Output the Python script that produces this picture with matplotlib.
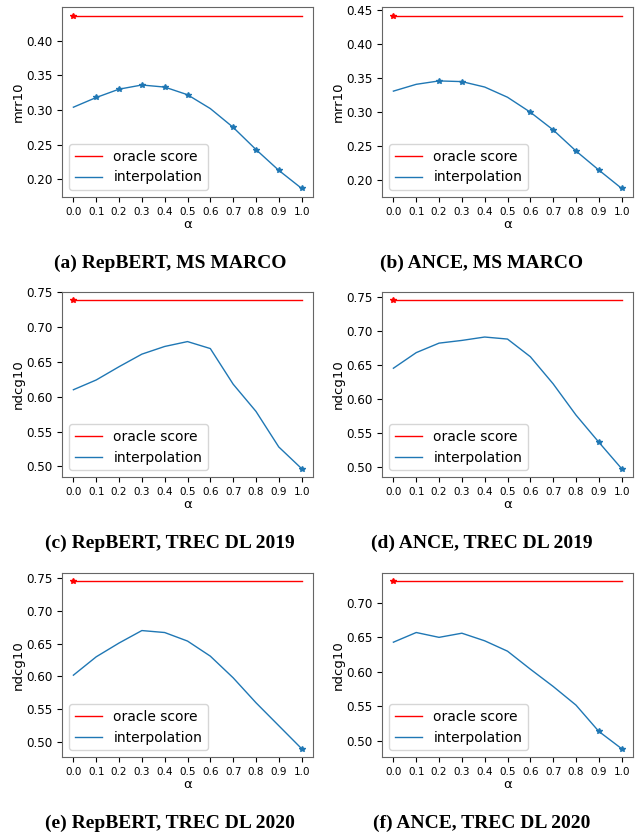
#!/usr/bin/env python3

import numpy as np
import matplotlib
matplotlib.use("Agg")
import matplotlib.pyplot as plt

alphas = [0.0, 0.1, 0.2, 0.3, 0.4, 0.5, 0.6, 0.7, 0.8, 0.9, 1.0]

repbert_msmarco = [0.304, 0.318, 0.330, 0.336, 0.333, 0.322, 0.302, 0.275, 0.243, 0.213, 0.187]
ance_msmarco = [0.330, 0.340, 0.345, 0.344, 0.336, 0.321, 0.299, 0.273, 0.242, 0.214, 0.187]
repbert_dl19 = [0.610, 0.624, 0.643, 0.661, 0.672, 0.679, 0.669, 0.618, 0.579, 0.528, 0.497]
ance_dl19 = [0.645, 0.668, 0.682, 0.686, 0.691, 0.688, 0.662, 0.622, 0.576, 0.536, 0.497]
repbert_dl20 = [0.602, 0.630, 0.651, 0.670, 0.667, 0.654, 0.631, 0.598, 0.560, 0.525, 0.490]
ance_dl20 = [0.643, 0.657, 0.650, 0.656, 0.645, 0.630, 0.604, 0.579, 0.552, 0.514, 0.489]

oracle_scores = [0.436, 0.441, 0.738, 0.745, 0.745, 0.731]
metrics = ["mrr10", "mrr10", "ndcg10", "ndcg10", "ndcg10", "ndcg10"]
captions = ["(a) RepBERT, MS MARCO", "(b) ANCE, MS MARCO",
            "(c) RepBERT, TREC DL 2019", "(d) ANCE, TREC DL 2019",
            "(e) RepBERT, TREC DL 2020", "(f) ANCE, TREC DL 2020"]
series = [repbert_msmarco, ance_msmarco, repbert_dl19, ance_dl19, repbert_dl20, ance_dl20]
# points where a star marker is drawn on the interpolation curve
starred = [[1, 2, 3, 4, 5, 7, 8, 9, 10], [2, 3, 6, 7, 8, 9, 10], [10], [9, 10], [10], [9, 10]]

fig = plt.figure(figsize=(6.4, 8.38), dpi=100)

col_left = [62 / 640, 382 / 640]
ax_w = 251 / 640
rows = [(7, 197), (292, 477), (573, 757)]
cap_x = [170 / 640, 482 / 640]
cap_y = [263, 543, 823]

for i in range(6):
    r, c = divmod(i, 2)
    top, bottom = rows[r]
    ax = fig.add_axes([col_left[c], 1 - bottom / 838, ax_w, (bottom - top) / 838])
    y = np.array(series[i])
    x = np.array(alphas)
    ax.plot(x, [oracle_scores[i]] * len(x), color="red", lw=1.0, label="oracle score")
    ax.plot(x[:1], [oracle_scores[i]], "*", color="red", ms=4)
    ax.plot(x, y, color="#1f77b4", lw=1.0, label="interpolation")
    idx = starred[i]
    ax.plot(x[idx], y[idx], "*", color="#1f77b4", ms=4)
    ax.set_xticks(alphas)
    ax.set_xticklabels([f"{a:.1f}" for a in alphas], fontsize=7.5)
    ax.tick_params(axis="y", labelsize=8.6)
    ax.set_xlabel("α", fontsize=9.5, labelpad=1)
    ax.set_ylabel(metrics[i], fontsize=9.5, labelpad=1)
    for s in ax.spines.values():
        s.set_color("#666666")
    ax.legend(loc="lower left", fontsize=10)
    fig.text(cap_x[c], 1 - cap_y[r] / 838, captions[i], ha="center", va="center",
             family="Liberation Serif", fontweight="bold", fontsize=14)

fig.savefig("out.png", dpi=100)
